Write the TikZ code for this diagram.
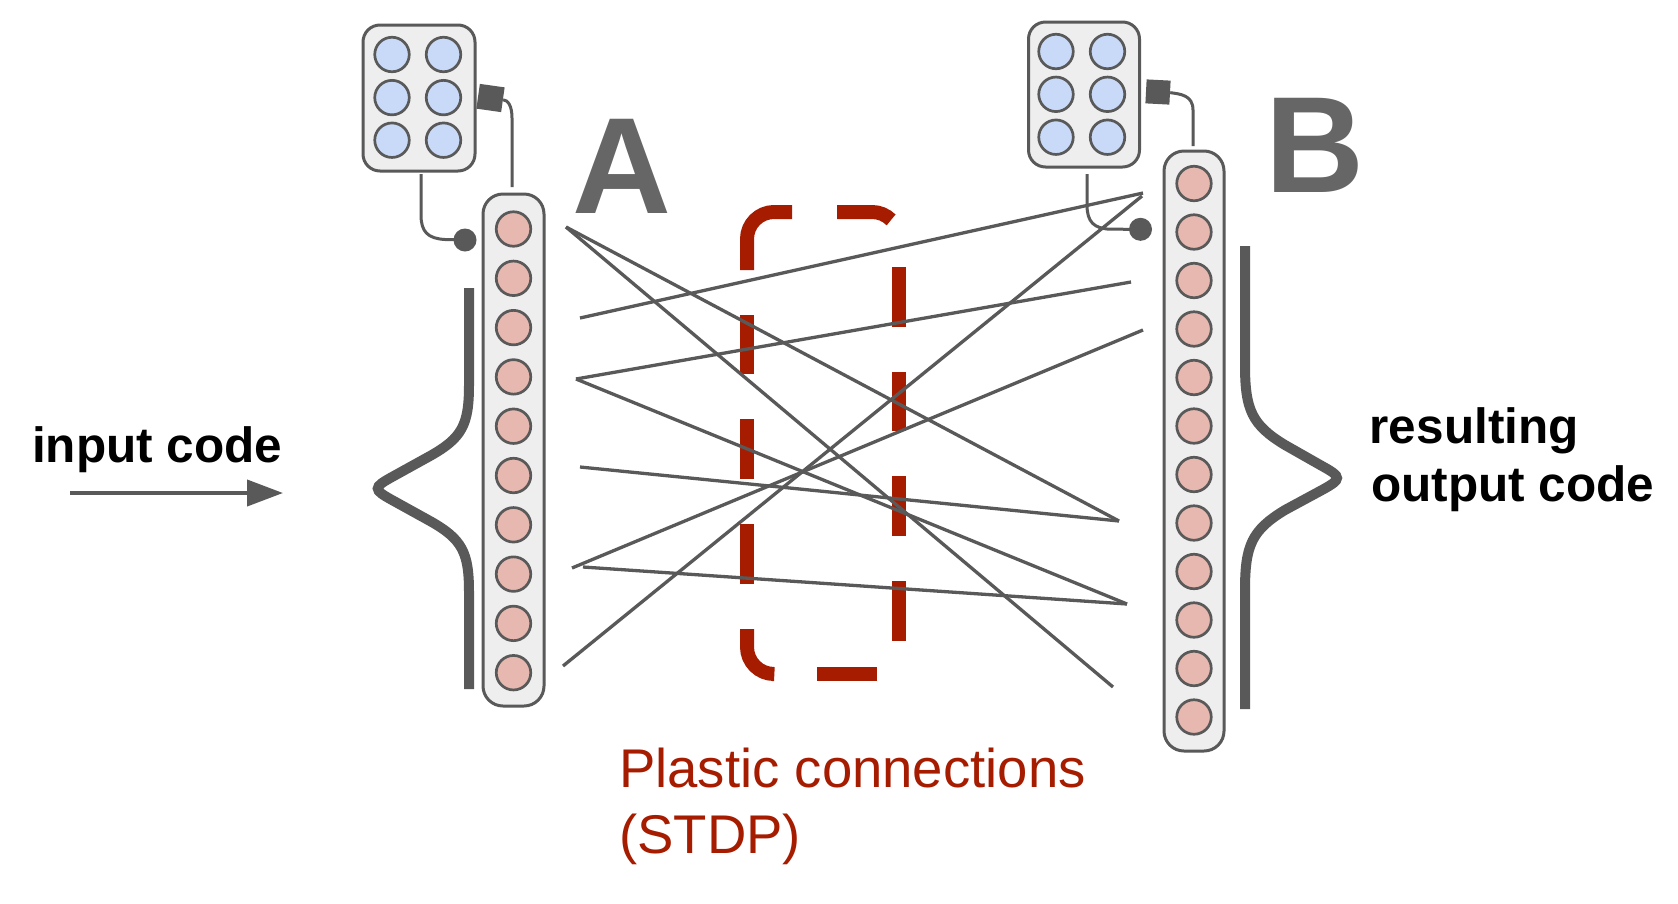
\documentclass[tikz,border=0pt]{standalone}
\usepackage{fontspec}
\setmainfont{Liberation Sans}
\usetikzlibrary{arrows.meta}
\definecolor{edgec}{HTML}{595959}
\definecolor{boxfill}{HTML}{EEEEEE}
\definecolor{pinkc}{HTML}{E6B8AF}
\definecolor{bluec}{HTML}{C9DAF8}
\definecolor{berry}{HTML}{A61C00}
\definecolor{lettergray}{HTML}{666666}
\begin{document}
\begin{tikzpicture}[x=1pt,y=-1pt,
  colbox/.style={rectangle,draw=edgec,line width=3,fill=boxfill,rounded corners=20,inner sep=0},
  topbox/.style={rectangle,draw=edgec,line width=3,fill=boxfill,rounded corners=17,inner sep=0},
  pinkcell/.style={circle,draw=edgec,line width=2.7,fill=pinkc,minimum size=34.5,inner sep=0},
  bluecell/.style={circle,draw=edgec,line width=2.7,fill=bluec,minimum size=34.5,inner sep=0},
  sqr/.style={rectangle,fill=edgec,inner sep=0},
  dotnode/.style={circle,fill=edgec,minimum size=23,inner sep=0},
  conn/.style={draw=edgec,line width=3.3},
  wire/.style={draw=edgec,line width=3},
  bracestyle/.style={draw=edgec,line width=10},
  plastic/.style={draw=berry,line width=14},
  bigletter/.style={font=\fontsize{137}{140}\selectfont\bfseries,text=lettergray,inner sep=0,anchor=base},
  label/.style={font=\fontsize{49.5}{57}\selectfont\bfseries,inner sep=0,anchor=base west},
  redlabel/.style={font=\fontsize{54.5}{65}\selectfont,text=berry,inner sep=0,anchor=base west}
]
\useasboundingbox (0,0) rectangle (1678,903);
\fill[white] (0,0) rectangle (1678,903);

% plastic connections dashed box (drawn piecewise)
\draw[plastic] (747,270) -- (747,239) .. controls (747,224.1) and (759.1,212) .. (774,212) -- (792,212);
\draw[plastic] (837,212) -- (872,212) .. controls (879.2,212) and (886,214.8) .. (891.1,219.9);
\draw[plastic] (899,267) -- (899,327);
\draw[plastic] (899,372) -- (899,431);
\draw[plastic] (899,476) -- (899,536);
\draw[plastic] (899,581) -- (899,641);
\draw[plastic] (877,674) -- (817,674);
\draw[plastic] (772,674) -- (774,674) .. controls (759.1,674) and (747,661.9) .. (747,647) -- (747,629);
\draw[plastic] (747,584) -- (747,524);
\draw[plastic] (747,479) -- (747,419);
\draw[plastic] (747,374) -- (747,315);

% top boxes
\node[topbox,minimum width=112,minimum height=146] (topA) at (419,98) {};
\foreach \i/\yy in {1/54.5,2/97.6,3/140.2}{
  \node[bluecell] (ba\i l) at (392,\yy) {};
  \node[bluecell] (ba\i r) at (443.5,\yy) {};
}
\node[topbox,minimum width=111,minimum height=145] (topB) at (1084,94.5) {};
\foreach \i/\yy in {1/51.5,2/94.3,3/137.2}{
  \node[bluecell] (bb\i l) at (1056,\yy) {};
  \node[bluecell] (bb\i r) at (1107.5,\yy) {};
}

% columns
\node[colbox,minimum width=61,minimum height=512] (colA) at (513.5,450) {};
\foreach \i in {0,...,9}{
  \node[pinkcell] (pa\i) at (513.5,229+49.3*\i) {};
}
\node[colbox,minimum width=60,minimum height=600] (colB) at (1194,451) {};
\foreach \i in {0,...,11}{
  \node[pinkcell] (pb\i) at (1194,183.5+48.5*\i) {};
}

% squares, dots, wires
\node[sqr,minimum width=25,minimum height=25,rotate=-8] (sqA) at (490.5,98) {};
\node[sqr,minimum width=24,minimum height=24,rotate=-3] (sqB) at (1158,92) {};
\node[dotnode] (dotA) at (465,240) {};
\node[dotnode] (dotB) at (1140.5,229.3) {};
\coordinate (wA1) at (512,187);
\coordinate (wA0) at (421,174);
\coordinate (wB1) at (1193,146);
\coordinate (wB0) at (1087,174);
\draw[wire] (sqA.east) .. controls (508,100) and (512,106) .. (512,118) -- (wA1);
\draw[wire] (wA0) -- (421,215) .. controls (421,232) and (428,238.5) .. (445,239.5) -- (dotA.center);
\draw[wire] (sqB.east) .. controls (1180,94) and (1193,95) .. (1193,110) -- (wB1);
\draw[wire] (wB0) -- (1087,205) .. controls (1087,222) and (1094,228.5) .. (1110,229.2) -- (dotB.center);

% connector end points
\coordinate (L1) at (566,227);
\coordinate (L2) at (580,318);
\coordinate (L3) at (576,379);
\coordinate (L4) at (580,467);
\coordinate (L5) at (572,568);
\coordinate (L6) at (583,567);
\coordinate (L7) at (563,666);
\coordinate (R1) at (1143,193);
\coordinate (R1b) at (1142,196);
\coordinate (R2) at (1131,282);
\coordinate (R3) at (1143,330);
\coordinate (R4) at (1119,521);
\coordinate (R5) at (1127,604);
\coordinate (R6) at (1113,687);
\draw[conn] (L1) -- (R4);
\draw[conn] (L1) -- (R6);
\draw[conn] (L2) -- (R1);
\draw[conn] (L3) -- (R2);
\draw[conn] (L3) -- (R5);
\draw[conn] (L4) -- (R4);
\draw[conn] (L5) -- (R3);
\draw[conn] (L6) -- (R5);
\draw[conn] (L7) -- (R1b);

% braces
\draw[bracestyle] (469,288) -- (469,385) .. controls (469,425) and (462,438) .. (430,456) -- (392,477)
  .. controls (373,487.5) and (373,489.5) .. (392,500) -- (430,521)
  .. controls (462,539) and (469,552) .. (469,592) -- (469,689);
\draw[bracestyle] (1245,246) -- (1245,365) .. controls (1245,410) and (1252,425) .. (1285,445) -- (1322,466)
  .. controls (1342,477) and (1342,479) .. (1322,490) -- (1285,510)
  .. controls (1252,530) and (1245,545) .. (1245,590) -- (1245,709);

% letters
\node[bigletter] (letA) at (621.5,213) {A};
\node[bigletter] (letB) at (1315,192) {B};

% input arrow
\coordinate (arS) at (70,493);
\coordinate (arE) at (283,493);
\draw[draw=edgec,line width=4,-{Triangle[length=36,width=26]}] (arS) -- (arE);

% labels
\node[label] (incode) at (32,462) {input code};
\node[label] (res1) at (1369.5,443) {resulting};
\node[label] (res2) at (1371,501) {output code};
\node[redlabel] (pl1) at (619,787) {Plastic connections};
\node[redlabel] (pl2) at (619,853) {(STDP)};
\end{tikzpicture}
\end{document}
